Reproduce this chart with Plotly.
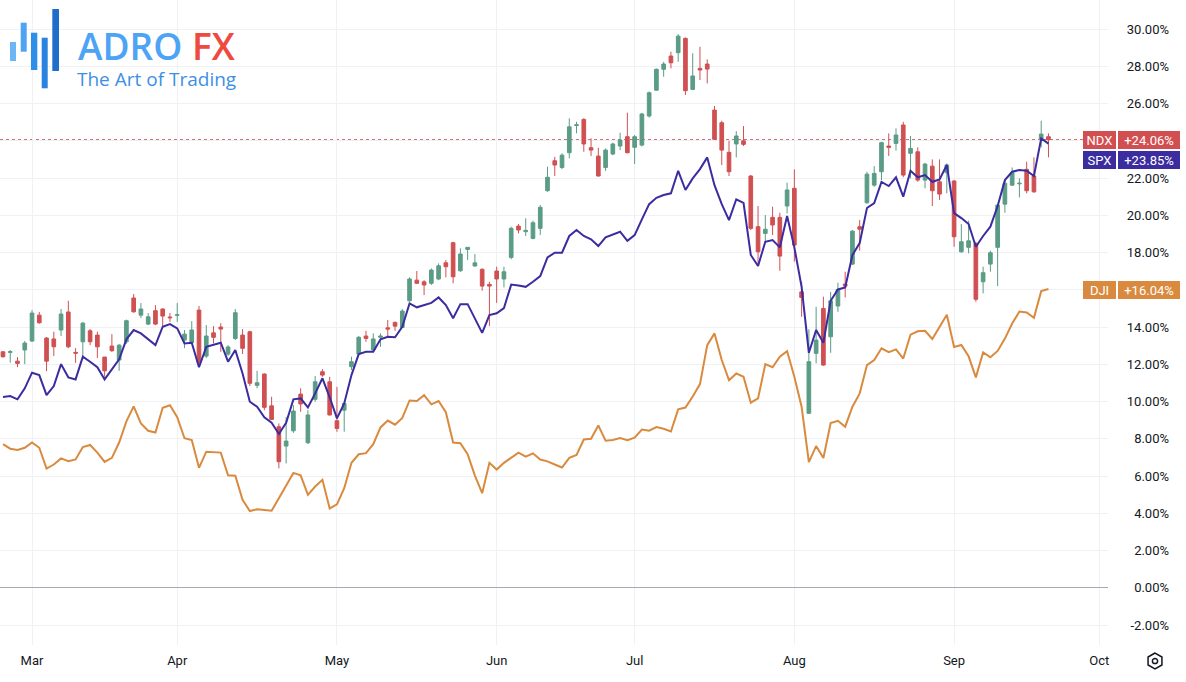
import math
import plotly.graph_objects as go

# ---------------- data ----------------
month_days = [
    ("2024-02", [26, 27, 28, 29]),
    ("2024-03", [1, 4, 5, 6, 7, 8, 11, 12, 13, 14, 15, 18, 19, 20, 21, 22, 25, 26, 27, 28]),
    ("2024-04", [1, 2, 3, 4, 5, 8, 9, 10, 11, 12, 15, 16, 17, 18, 19, 22, 23, 24, 25, 26, 29, 30]),
    ("2024-05", [1, 2, 3, 6, 7, 8, 9, 10, 13, 14, 15, 16, 17, 20, 21, 22, 23, 24, 28, 29, 30, 31]),
    ("2024-06", [3, 4, 5, 6, 7, 10, 11, 12, 13, 14, 17, 18, 20, 21, 24, 25, 26, 27, 28]),
    ("2024-07", [1, 2, 3, 5, 8, 9, 10, 11, 12, 15, 16, 17, 18, 19, 22, 23, 24, 25, 26, 29, 30, 31]),
    ("2024-08", [1, 2, 5, 6, 7, 8, 9, 12, 13, 14, 15, 16, 19, 20, 21, 22, 23, 26, 27, 28, 29, 30]),
    ("2024-09", [3, 4, 5, 6, 9, 10, 11, 12, 13, 16, 17, 18, 19, 20]),
]
future_days = [("2024-09", [23, 24, 25, 26, 27, 30]), ("2024-10", [1])]

dates = [f"{m}-{d:02d}" for m, ds in month_days for d in ds]
future = [f"{m}-{d:02d}" for m, ds in future_days for d in ds]

month_ticks = ["2024-03-01", "2024-04-01", "2024-05-01", "2024-06-03",
               "2024-07-01", "2024-08-01", "2024-09-03", "2024-10-01"]
month_labels = ["Mar", "Apr", "May", "Jun", "Jul", "Aug", "Sep", "Oct"]

y_ticks = [-2, 0, 2, 4, 6, 8, 10, 12, 14, 16, 18, 20, 22, 24, 26, 28, 30]

ndx_open = [
    12.67, 12.64, 12.17, 12.77, 13.25, 14.64, 13.41, 13.36, 13.84, 14.81,
    12.64, 13.21, 13.80, 13.57, 12.39, 12.98, 12.23, 13.21, 15.56, 14.64,
    14.16, 14.88, 14.97, 14.54, 14.63, 13.30, 13.16, 14.91, 12.44, 13.69,
    14.00, 12.55, 13.39, 13.57, 13.75, 10.87, 11.48, 9.77, 8.65, 7.61,
    8.43, 10.40, 7.79, 10.12, 11.60, 11.06, 8.97, 9.54, 11.87, 12.55,
    13.52, 12.77, 13.45, 13.96, 14.25, 13.98, 15.41, 16.52, 16.43, 16.35,
    16.58, 17.45, 18.53, 17.02, 18.17, 17.28, 17.10, 16.29, 17.01, 16.58,
    17.74, 19.42, 19.12, 18.76, 19.30, 21.32, 22.93, 22.57, 23.36, 24.82,
    25.15, 23.63, 23.18, 22.57, 23.29, 23.72, 24.22, 23.65, 23.77, 25.33,
    26.72, 27.84, 28.55, 28.73, 29.50, 26.76, 27.89, 28.12, 25.65, 24.97,
    23.38, 23.83, 24.00, 22.11, 19.39, 19.03, 19.89, 19.89, 20.50, 21.45,
    15.89, 9.37, 12.59, 15.00, 13.48, 15.13, 16.31, 17.38, 19.39, 20.67,
    21.62, 22.34, 23.72, 23.86, 24.85, 23.33, 23.41, 21.89, 22.64, 21.80,
    22.29, 21.84, 18.04, 18.28, 18.49, 16.43, 17.38, 18.28, 20.60, 21.62,
    21.69, 22.47, 22.11, 24.08, 24.22]
ndx_high = [
    12.72, 12.77, 12.39, 13.25, 14.91, 14.81, 13.46, 13.75, 14.97, 15.41,
    12.87, 14.28, 13.89, 13.75, 12.39, 13.62, 13.08, 14.40, 15.77, 15.29,
    14.75, 15.18, 15.00, 14.75, 15.29, 13.84, 14.32, 15.13, 14.11, 14.05,
    14.21, 13.03, 14.97, 13.89, 13.80, 11.65, 11.51, 10.26, 8.83, 9.18,
    9.81, 10.71, 9.54, 11.37, 11.74, 11.33, 10.79, 9.95, 12.41, 13.52,
    13.80, 13.66, 13.66, 14.38, 14.30, 14.97, 16.67, 17.01, 16.52, 17.15,
    17.42, 17.60, 18.58, 18.23, 18.30, 17.92, 17.15, 16.43, 17.24, 17.24,
    19.39, 19.53, 19.84, 19.71, 20.55, 22.61, 23.14, 23.33, 25.21, 25.02,
    25.21, 24.13, 23.63, 23.59, 23.90, 24.43, 25.51, 24.31, 25.50, 26.65,
    27.88, 28.24, 28.78, 29.73, 29.55, 28.70, 29.05, 28.37, 25.87, 25.08,
    24.00, 24.52, 24.79, 22.16, 20.50, 20.01, 20.46, 20.14, 21.75, 22.47,
    16.43, 13.88, 15.09, 15.63, 15.89, 16.38, 16.97, 19.21, 19.75, 22.34,
    22.64, 23.95, 24.40, 24.67, 25.02, 24.26, 23.65, 22.82, 23.00, 23.00,
    22.79, 21.90, 19.53, 19.71, 18.58, 17.24, 18.10, 20.60, 21.93, 22.57,
    21.98, 22.88, 23.11, 25.08, 24.40]
ndx_low = [
    12.35, 12.09, 11.85, 12.01, 13.20, 14.18, 11.63, 12.44, 13.52, 12.87,
    12.08, 12.44, 13.03, 12.34, 11.33, 12.67, 11.65, 13.10, 14.77, 14.48,
    14.10, 14.10, 14.02, 14.28, 14.28, 12.87, 13.12, 12.05, 12.34, 13.12,
    12.67, 12.44, 13.30, 12.55, 10.83, 10.71, 9.54, 9.01, 6.41, 6.68,
    8.32, 9.45, 7.72, 9.99, 11.33, 9.25, 8.38, 8.38, 11.69, 12.50,
    13.21, 12.67, 12.94, 13.48, 13.80, 13.95, 15.36, 16.31, 15.72, 16.26,
    16.52, 16.67, 16.35, 16.97, 17.60, 17.24, 15.95, 14.05, 15.30, 16.13,
    17.64, 19.03, 18.89, 18.71, 18.94, 21.26, 22.11, 22.48, 23.06, 24.40,
    23.41, 23.18, 22.08, 22.39, 23.23, 23.50, 23.33, 22.75, 23.70, 25.25,
    26.68, 27.44, 27.89, 28.24, 26.46, 26.72, 27.26, 27.08, 24.05, 22.70,
    22.11, 23.11, 23.72, 19.21, 17.42, 18.58, 18.94, 17.02, 20.10, 17.51,
    14.55, 9.33, 12.05, 11.92, 12.62, 14.82, 15.59, 17.33, 18.10, 20.64,
    21.53, 21.89, 23.18, 23.47, 22.04, 21.98, 21.80, 21.45, 20.50, 20.82,
    21.18, 18.31, 17.99, 17.96, 15.36, 15.81, 16.97, 16.20, 20.14, 21.57,
    20.96, 21.18, 21.21, 23.65, 23.11]
ndx_close = [
    12.41, 12.68, 12.05, 13.14, 14.75, 14.23, 12.17, 12.94, 14.70, 12.94,
    12.60, 14.21, 13.21, 12.94, 11.65, 12.73, 13.03, 14.34, 14.82, 14.97,
    14.55, 14.16, 14.59, 14.50, 14.66, 13.62, 13.84, 12.08, 13.52, 13.45,
    13.89, 12.93, 14.77, 12.86, 10.98, 11.01, 9.69, 9.04, 6.77, 7.88,
    9.49, 9.87, 9.28, 11.06, 11.42, 9.28, 8.56, 9.90, 12.14, 13.45,
    13.39, 13.36, 13.52, 13.89, 14.05, 14.86, 16.58, 16.35, 16.26, 17.06,
    17.29, 17.24, 16.70, 17.92, 18.28, 17.45, 16.20, 16.20, 16.58, 16.97,
    19.30, 19.21, 19.19, 19.60, 20.43, 22.04, 22.70, 23.23, 24.75, 24.86,
    23.83, 23.50, 22.11, 23.50, 23.83, 24.04, 23.36, 24.22, 25.44, 26.58,
    27.84, 28.12, 28.19, 29.62, 26.69, 27.48, 27.80, 27.85, 24.08, 23.50,
    22.34, 24.26, 23.81, 19.30, 18.04, 19.25, 19.48, 17.81, 21.36, 18.40,
    15.59, 12.14, 13.30, 11.96, 15.41, 16.02, 16.20, 19.15, 19.25, 22.21,
    22.25, 23.90, 23.65, 24.31, 22.16, 23.59, 21.89, 22.75, 21.32, 21.14,
    22.70, 18.85, 18.58, 18.63, 15.49, 16.92, 17.99, 20.55, 21.72, 22.29,
    21.72, 21.32, 21.26, 24.36, 24.06]

spx = [
    10.24, 10.30, 10.12, 10.71, 11.55, 11.42, 10.35, 10.83, 12.01, 11.30,
    11.19, 12.41, 12.14, 11.84, 11.19, 11.73, 12.27, 13.34, 13.84, 13.66,
    13.34, 13.03, 14.02, 14.16, 13.93, 13.12, 13.16, 11.84, 12.94, 13.03,
    13.16, 12.14, 12.77, 11.51, 9.99, 9.72, 9.15, 8.86, 8.26, 8.86,
    10.12, 10.17, 9.69, 10.44, 11.25, 10.23, 9.10, 9.90, 11.42, 12.55,
    12.67, 12.67, 13.34, 13.48, 13.45, 14.02, 15.27, 15.06, 15.18, 15.30,
    15.59, 15.18, 14.47, 15.23, 15.23, 14.47, 13.69, 14.64, 14.74, 15.02,
    16.28, 16.23, 16.16, 16.43, 16.74, 17.74, 17.99, 17.99, 18.89, 19.21,
    18.89, 18.71, 18.35, 18.82, 18.99, 19.12, 18.63, 18.94, 19.78, 20.60,
    20.94, 21.09, 21.18, 22.39, 21.36, 21.98, 22.48, 23.11, 21.62, 20.60,
    19.74, 20.86, 20.67, 17.87, 17.28, 18.58, 18.67, 18.28, 19.96, 18.28,
    16.16, 12.62, 13.84, 13.16, 15.41, 16.02, 16.13, 17.87, 18.51, 20.39,
    20.66, 21.79, 21.57, 22.04, 21.00, 22.39, 22.04, 22.16, 21.80, 21.93,
    22.70, 20.12, 19.85, 19.53, 18.31, 18.89, 19.39, 20.50, 21.89, 22.34,
    22.43, 22.39, 22.11, 24.13, 23.85]

dji = [
    7.71, 7.47, 7.40, 7.52, 7.80, 7.52, 6.40, 6.62, 6.95, 6.80,
    6.89, 7.56, 7.67, 7.26, 6.76, 6.98, 7.80, 8.94, 9.74, 8.83,
    8.43, 8.34, 9.67, 9.80, 9.16, 8.03, 7.93, 6.44, 7.31, 7.27,
    7.26, 6.04, 6.02, 4.72, 4.12, 4.22, 4.17, 4.14, 4.81, 5.53,
    6.17, 6.04, 4.99, 5.44, 5.80, 4.26, 4.48, 5.35, 6.71, 7.17,
    7.23, 7.71, 8.61, 8.98, 8.76, 9.12, 10.06, 10.03, 10.34, 9.85,
    10.03, 9.43, 7.80, 7.76, 7.17, 6.02, 5.08, 6.71, 6.35, 6.71,
    6.98, 7.26, 7.04, 7.22, 6.89, 6.79, 6.62, 6.46, 6.98, 7.13,
    7.96, 8.00, 8.72, 7.90, 7.94, 8.04, 7.92, 8.06, 8.50, 8.44,
    8.63, 8.54, 8.39, 9.58, 9.68, 10.27, 10.94, 13.03, 13.66, 12.23,
    11.15, 11.51, 11.33, 9.94, 10.17, 12.01, 11.84, 12.41, 12.71, 11.33,
    9.72, 6.75, 7.61, 6.97, 8.85, 8.97, 8.65, 9.72, 10.44, 11.96,
    12.23, 12.86, 12.65, 12.80, 12.31, 13.59, 13.77, 13.80, 13.36, 14.03,
    14.66, 12.93, 13.04, 12.43, 11.30, 12.64, 12.38, 12.72, 13.38, 14.19,
    14.83, 14.78, 14.50, 15.93, 16.04]

# ---------------- styles ----------------
UP = "#5a9c85"
DOWN = "#d05052"
SPX_C = "#3b2c9f"
DJI_C = "#d98a3e"
NDX_BOX = "#d24f51"
GRID = "#eff1f5"
TXT = "#131722"
FONT = "Roboto"

W_PAPER = 1172.0   # plot-area width (l=0, r=14)
H_PAPER = 645.0    # plot-area height (t=0, b=37)
X_DOMAIN_END = 1108.0 / W_PAPER


def px(x):
    return x / W_PAPER


def py(y):
    return (H_PAPER - y) / H_PAPER


fig = go.Figure()

fig.add_trace(go.Scatter(x=dates, y=dji, mode="lines",
                         line=dict(color=DJI_C, width=2),
                         showlegend=False, hoverinfo="skip"))

fig.add_trace(go.Candlestick(
    x=dates, open=ndx_open, high=ndx_high, low=ndx_low, close=ndx_close,
    increasing=dict(line=dict(color=UP, width=1), fillcolor=UP),
    decreasing=dict(line=dict(color=DOWN, width=1), fillcolor=DOWN),
    whiskerwidth=0, showlegend=False, hoverinfo="skip"))

fig.add_trace(go.Scatter(x=dates, y=spx, mode="lines",
                         line=dict(color=SPX_C, width=2),
                         showlegend=False, hoverinfo="skip"))

# dotted line at last NDX close
fig.add_shape(type="line", xref="paper", x0=0, x1=X_DOMAIN_END,
              yref="y", y0=ndx_close[-1], y1=ndx_close[-1],
              line=dict(color=DOWN, width=1, dash="dot"), layer="below")

# ---------------- price labels on the right ----------------
labels = [("NDX", ndx_close[-1], NDX_BOX, 0),
          ("SPX", spx[-1], SPX_C, -16),
          ("DJI", dji[-1], DJI_C, -1)]
for name, val, col, shift in labels:
    fig.add_annotation(x=px(1083), xref="paper", y=val, yref="y",
                       xanchor="left", yanchor="middle", yshift=shift,
                       text=name, showarrow=False, bgcolor=col,
                       width=33, height=18, borderpad=0, borderwidth=0,
                       font=dict(family=FONT, size=13, color="white"))
    fig.add_annotation(x=px(1118), xref="paper", y=val, yref="y",
                       xanchor="left", yanchor="middle", yshift=shift,
                       text=f"{val:+.2f}%", showarrow=False, bgcolor=col,
                       width=62, height=18, borderpad=0, borderwidth=0,
                       font=dict(family=FONT, size=13, color="white"))

# ---------------- logo ----------------
bars = [(10, 16, 42, 61, "#6cb6f6"), (20.7, 26.7, 22.7, 51.7, "#4ea4f2"),
        (31, 37.3, 32.7, 70, "#2e8fe9"), (41.7, 47.7, 37.7, 88.3, "#2a83de"),
        (52.3, 59, 9, 71, "#1f6fca")]
for x0, x1, y0, y1, c in bars:
    fig.add_shape(type="rect", xref="paper", yref="paper",
                  x0=px(x0), x1=px(x1), y0=py(y1), y1=py(y0),
                  fillcolor=c, line=dict(width=0), layer="above")

fig.add_annotation(x=px(76), y=py(45), xref="paper", yref="paper",
                   xanchor="left", yanchor="middle", showarrow=False,
                   text="<span style='color:#4da3f4'>ADRO</span> <span style='color:#ef4a3f'>FX</span>",
                   font=dict(family="Open Sans", size=37, weight=600))
fig.add_annotation(x=px(75), y=py(79), xref="paper", yref="paper",
                   xanchor="left", yanchor="middle", showarrow=False,
                   text="The Art of Trading",
                   font=dict(family="Open Sans", size=19, color="#3d8fe6"))

# ---------------- settings (gear) icon ----------------
cx, cy, r = 1155, 661, 8
pts = []
for k in range(6):
    a = math.radians(90 + 60 * k)
    pts.append((px(cx + r * math.cos(a)), py(cy - r * math.sin(a))))
path = "M " + " L ".join(f"{x:.5f},{y:.5f}" for x, y in pts) + " Z"
fig.add_shape(type="path", xref="paper", yref="paper", path=path,
              line=dict(color=TXT, width=1.5), fillcolor="rgba(0,0,0,0)")
fig.add_shape(type="circle", xref="paper", yref="paper",
              x0=px(cx - 2.6), x1=px(cx + 2.6), y0=py(cy + 2.6), y1=py(cy - 2.6),
              line=dict(color=TXT, width=1.5))

# ---------------- layout ----------------
fig.update_layout(
    width=1186, height=682,
    margin=dict(l=0, r=14, t=0, b=37),
    paper_bgcolor="white", plot_bgcolor="white",
    showlegend=False, boxgap=0.28,
    font=dict(family=FONT, size=13, color=TXT),
    xaxis=dict(
        type="category", categoryorder="array", categoryarray=dates + future,
        range=[-0.41, 152.2], domain=[0, X_DOMAIN_END],
        tickmode="array", tickvals=month_ticks, ticktext=month_labels,
        showgrid=True, gridcolor=GRID, gridwidth=1,
        showline=False, zeroline=False, ticks="",
        rangeslider=dict(visible=False),
        tickfont=dict(family=FONT, size=13, color=TXT),
        ticklabelstandoff=6,
    ),
    yaxis=dict(
        range=[-3.07, 31.56], anchor="free", position=1, side="right",
        tickmode="array", tickvals=y_ticks,
        ticktext=[f"{v:.2f}%" for v in y_ticks],
        ticklabelposition="inside", ticklabeloverflow="allow",
        showgrid=True, gridcolor=GRID, gridwidth=1,
        zeroline=True, zerolinecolor="#a7aab2", zerolinewidth=1,
        showline=False, ticks="",
        tickfont=dict(family=FONT, size=13, color=TXT),
    ),
)

fig.write_html(
    "out.html",
    config={"displayModeBar": False},
    post_script="document.body.style.margin='0';document.body.style.overflow='hidden';",
)
